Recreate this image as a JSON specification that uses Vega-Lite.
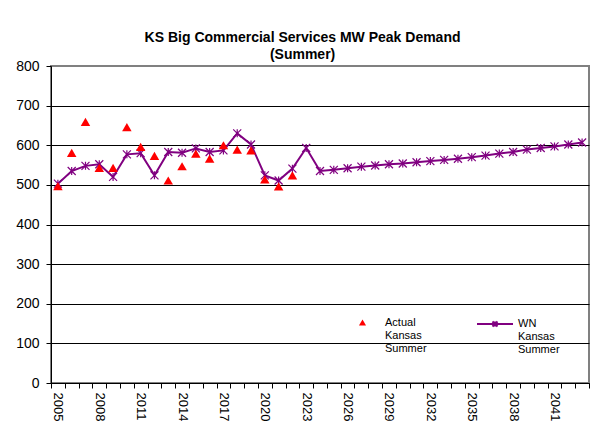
{
  "$schema": "https://vega.github.io/schema/vega-lite/v6.json",
  "autosize": {"type": "none"},
  "padding": {"left": 51, "top": 66, "right": 8, "bottom": 55},
  "width": 538,
  "height": 317,
  "background": "white",
  "config": {
    "font": "Liberation Sans",
    "view": {"stroke": "#808080", "strokeWidth": 2}
  },
  "title": {
    "text": ["KS Big Commercial  Services MW Peak Demand", "(Summer)"],
    "fontSize": 14,
    "fontWeight": "bold",
    "lineHeight": 17,
    "anchor": "middle",
    "frame": "bounds",
    "color": "black",
    "offset": -3
  },
  "data": {
    "values": [
      {"year": 2005, "actual": 497, "wn": 503},
      {"year": 2006, "actual": 581, "wn": 535},
      {"year": 2007, "actual": 659, "wn": 548},
      {"year": 2008, "actual": 543, "wn": 552},
      {"year": 2009, "actual": 543, "wn": 520},
      {"year": 2010, "actual": 646, "wn": 577},
      {"year": 2011, "actual": 596, "wn": 580},
      {"year": 2012, "actual": 573, "wn": 524},
      {"year": 2013, "actual": 511, "wn": 583},
      {"year": 2014, "actual": 547, "wn": 581},
      {"year": 2015, "actual": 579, "wn": 592},
      {"year": 2016, "actual": 566, "wn": 583},
      {"year": 2017, "actual": 600, "wn": 587},
      {"year": 2018, "actual": 589, "wn": 630},
      {"year": 2019, "actual": 587, "wn": 602},
      {"year": 2020, "actual": 514, "wn": 524},
      {"year": 2021, "actual": 496, "wn": 511},
      {"year": 2022, "actual": 524, "wn": 541},
      {"year": 2023, "actual": null, "wn": 593},
      {"year": 2024, "actual": null, "wn": 535},
      {"year": 2025, "actual": null, "wn": 538},
      {"year": 2026, "actual": null, "wn": 542},
      {"year": 2027, "actual": null, "wn": 546},
      {"year": 2028, "actual": null, "wn": 549},
      {"year": 2029, "actual": null, "wn": 552},
      {"year": 2030, "actual": null, "wn": 554},
      {"year": 2031, "actual": null, "wn": 557},
      {"year": 2032, "actual": null, "wn": 560},
      {"year": 2033, "actual": null, "wn": 563},
      {"year": 2034, "actual": null, "wn": 566},
      {"year": 2035, "actual": null, "wn": 570},
      {"year": 2036, "actual": null, "wn": 574},
      {"year": 2037, "actual": null, "wn": 579},
      {"year": 2038, "actual": null, "wn": 583},
      {"year": 2039, "actual": null, "wn": 589},
      {"year": 2040, "actual": null, "wn": 593},
      {"year": 2041, "actual": null, "wn": 597},
      {"year": 2042, "actual": null, "wn": 602},
      {"year": 2043, "actual": null, "wn": 607}
    ]
  },
  "resolve": {"axis": {"x": "independent"}},
  "layer": [
    {
      "mark": {"type": "line", "strokeWidth": 2},
      "encoding": {
        "x": {
          "field": "year", "type": "quantitative",
          "scale": {"domain": [2004.5, 2043.5], "nice": false, "zero": false},
          "axis": {
            "orient": "bottom", "title": null, "grid": false,
            "values": [2005, 2008, 2011, 2014, 2017, 2020, 2023, 2026, 2029, 2032, 2035, 2038, 2041],
            "format": "d", "ticks": false, "domain": true, "domainColor": "black", "domainWidth": 1,
            "labelAngle": 90, "labelAlign": "left", "labelBaseline": "middle",
            "labelPadding": 9, "labelFontSize": 13, "labelColor": "black", "labelOverlap": false
          }
        },
        "y": {
          "field": "wn", "type": "quantitative",
          "scale": {"domain": [0, 800], "nice": false},
          "axis": {
            "title": null,
            "values": [0, 100, 200, 300, 400, 500, 600, 700, 800],
            "grid": true,
            "gridColor": {"condition": {"test": "datum.value === 800", "value": "#808080"}, "value": "black"},
            "gridWidth": 1,
            "domainColor": "black", "tickColor": "black", "tickSize": 5,
            "labelFontSize": 14, "labelColor": "black", "labelPadding": 7
          }
        },
        "stroke": {
          "datum": "WN Kansas Summer",
          "scale": {"domain": ["WN Kansas Summer"], "range": ["#800080"]},
          "legend": {
            "title": null, "orient": "none", "legendX": 425, "legendY": 239,
            "padding": 0,
            "symbolType": "M-1,0L1,0M-0.14,-0.14L0.14,0.14M-0.14,0.14L0.14,-0.14M0,-0.14L0,0.14",
            "symbolSize": 1296, "symbolStrokeWidth": 2,
            "labelExpr": "split(datum.label, ' ')",
            "labelFontSize": 11, "labelLineHeight": 12.5, "labelBaseline": "middle",
            "labelOffset": 4, "labelColor": "black"
          }
        }
      }
    },
    {
      "mark": {
        "type": "point",
        "shape": "M-1,-1L1,1M-1,1L1,-1M0,-1L0,1",
        "filled": false, "stroke": "#800080", "strokeWidth": 1.2, "size": 64, "opacity": 1
      },
      "encoding": {
        "x": {
          "field": "year", "type": "quantitative",
          "axis": {
            "orient": "bottom", "title": null, "grid": false, "labels": false, "domain": false,
            "values": [2004.5, 2005.5, 2006.5, 2007.5, 2008.5, 2009.5, 2010.5, 2011.5, 2012.5, 2013.5, 2014.5, 2015.5, 2016.5, 2017.5, 2018.5, 2019.5, 2020.5, 2021.5, 2022.5, 2023.5, 2024.5, 2025.5, 2026.5, 2027.5, 2028.5, 2029.5, 2030.5, 2031.5, 2032.5, 2033.5, 2034.5, 2035.5, 2036.5, 2037.5, 2038.5, 2039.5, 2040.5, 2041.5, 2042.5, 2043.5],
            "ticks": true, "tickSize": 5, "tickColor": "black"
          }
        },
        "y": {
          "field": "wn", "type": "quantitative",
          "axis": {
            "title": null,
            "values": [0, 100, 200, 300, 400, 500, 600, 700, 800],
            "grid": true,
            "gridColor": {"condition": {"test": "datum.value === 800", "value": "#808080"}, "value": "black"},
            "gridWidth": 1,
            "domainColor": "black", "tickColor": "black", "tickSize": 5,
            "labelFontSize": 14, "labelColor": "black", "labelPadding": 7
          }
        }
      }
    },
    {
      "transform": [{"filter": "datum.actual != null"}],
      "mark": {"type": "point", "shape": "triangle-up", "filled": true, "size": 90, "opacity": 1},
      "encoding": {
        "x": {"field": "year", "type": "quantitative", "axis": null},
        "y": {
          "field": "actual", "type": "quantitative",
          "axis": {
            "title": null,
            "values": [0, 100, 200, 300, 400, 500, 600, 700, 800],
            "grid": true,
            "gridColor": {"condition": {"test": "datum.value === 800", "value": "#808080"}, "value": "black"},
            "gridWidth": 1,
            "domainColor": "black", "tickColor": "black", "tickSize": 5,
            "labelFontSize": 14, "labelColor": "black", "labelPadding": 7
          }
        },
        "fill": {
          "datum": "Actual Kansas Summer",
          "scale": {"domain": ["Actual Kansas Summer"], "range": ["#FF0000"]},
          "legend": {
            "title": null, "orient": "none", "legendX": 306, "legendY": 251,
            "padding": 0, "symbolType": "triangle-up", "symbolSize": 50,
            "labelExpr": "split(datum.label, ' ')",
            "labelFontSize": 11, "labelLineHeight": 12.5, "labelBaseline": "middle",
            "labelOffset": 17, "labelColor": "black"
          }
        }
      }
    }
  ]
}
